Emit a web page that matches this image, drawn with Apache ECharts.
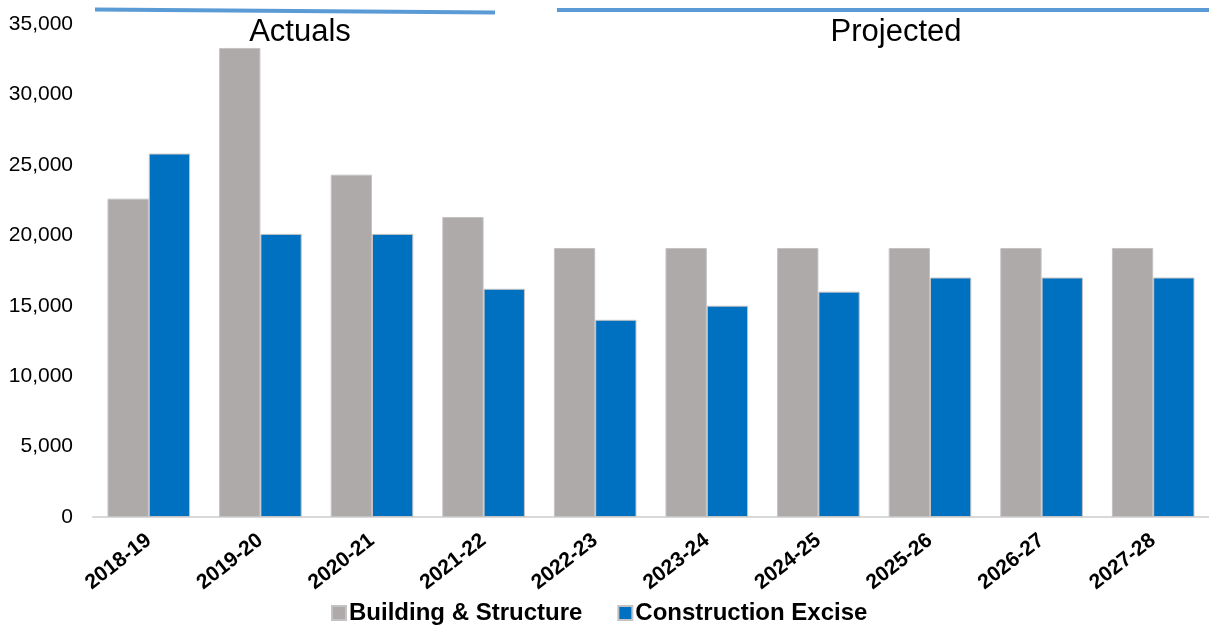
<!DOCTYPE html>
<html><head><meta charset="utf-8">
<script src="https://cdn.jsdelivr.net/npm/echarts@6/dist/echarts.min.js"></script>
<style>html,body{margin:0;padding:0;background:#fff}#c{width:1209px;height:626px}</style>
</head><body><div id="c"></div>
<script>
const categories = ['2018-19','2019-20','2020-21','2021-22','2022-23','2023-24','2024-25','2025-26','2026-27','2027-28'];
const buildingStructure = [22600,33300,24300,21300,19100,19100,19100,19100,19100,19100];
const constructionExcise = [25800,20100,20100,16200,14000,15000,16000,17000,17000,17000];
const seriesNames = ['Building & Structure','Construction Excise'];
const periodLabels = ['Actuals','Projected'];

const chart = echarts.init(document.getElementById('c'));
const font = 'Liberation Sans, Arial, sans-serif';
chart.setOption({
  animation:false,
  grid:{left:93,right:0,top:24,bottom:109,containLabel:false},
  legend:{top:596,left:326,itemWidth:14,itemHeight:14,itemGap:35,icon:'rect',
    textStyle:{fontFamily:font,fontSize:24,fontWeight:'bold',color:'#000',padding:[0,0,0,-2]},
    data:seriesNames},
  xAxis:{type:'category',data:categories,
    axisLine:{lineStyle:{color:'#d9d9d9',width:2}},axisTick:{show:false},
    axisLabel:{rotate:38,interval:0,fontFamily:font,fontSize:21,fontWeight:'bold',color:'#000',margin:21}},
  yAxis:{type:'value',min:0,max:35000,interval:5000,splitLine:{show:false},
    axisLine:{show:false},axisTick:{show:false},
    axisLabel:{fontFamily:font,fontSize:21,color:'#000',margin:20,
      formatter:v=>v.toLocaleString('en-US')}},
  series:[
    {name:seriesNames[0],type:'bar',data:buildingStructure,barGap:'0%',barCategoryGap:'26%',
      itemStyle:{color:'#AEAAAA',borderColor:'#c4c2c2',borderWidth:1}},
    {name:seriesNames[1],type:'bar',data:constructionExcise,
      itemStyle:{color:'#0070C0',borderColor:'#c4c2c2',borderWidth:1}}
  ],
  graphic:[
    {type:'line',shape:{x1:95,y1:9.5,x2:495,y2:12.5},style:{stroke:'#5B9BD5',lineWidth:4}},
    {type:'line',shape:{x1:557,y1:10,x2:1209,y2:10},style:{stroke:'#5B9BD5',lineWidth:4}},
    {type:'text',x:300,y:32,style:{text:periodLabels[0],font:'31px '+font,fill:'#000',align:'center',verticalAlign:'middle'}},
    {type:'text',x:896,y:32,style:{text:periodLabels[1],font:'31px '+font,fill:'#000',align:'center',verticalAlign:'middle'}}
  ]
});
</script></body></html>
